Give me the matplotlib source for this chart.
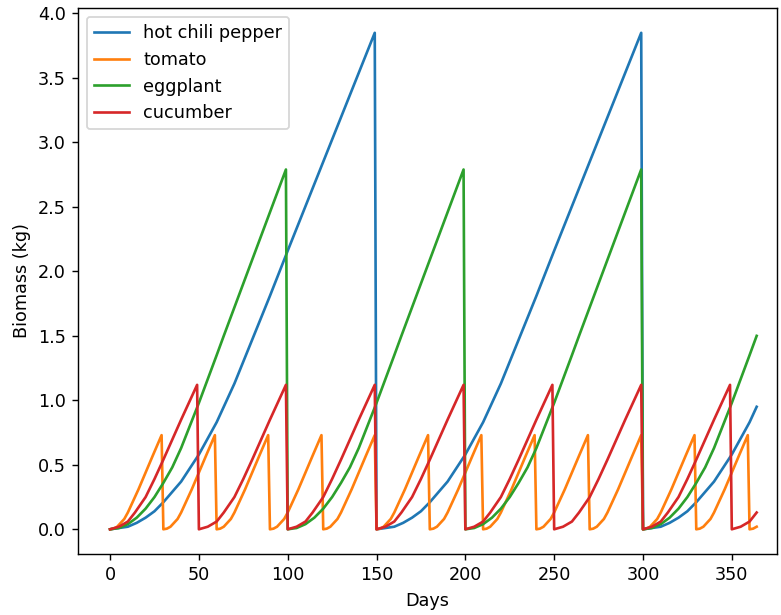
import matplotlib
matplotlib.use('Agg')
import matplotlib.pyplot as plt
import numpy as np

LAST_DAY = 364

# Each crop is harvested at the end of its cycle and restarts from zero.
crops = ['hot chili pepper', 'tomato', 'eggplant', 'cucumber']
cycle_days = [150, 30, 100, 50]

chili_age = [0, 5, 10, 15, 20, 25, 30, 40, 50, 60, 64, 70, 80, 90, 100, 120, 149]
chili_kg = [0.0, 0.01, 0.02, 0.05, 0.09, 0.14, 0.21, 0.37, 0.58, 0.83, 0.95, 1.13,
            1.47, 1.81, 2.16, 2.85, 3.85]

tomato_age = [0, 2, 4, 6, 8, 10, 12, 14, 16, 20, 24, 29]
tomato_kg = [0.0, 0.005, 0.02, 0.05, 0.08, 0.13, 0.19, 0.25, 0.31, 0.44, 0.57, 0.73]

eggplant_age = [0, 5, 10, 15, 20, 25, 30, 35, 40, 50, 60, 64, 80, 99]
eggplant_kg = [0.0, 0.01, 0.04, 0.09, 0.16, 0.25, 0.36, 0.48, 0.63, 0.98, 1.35,
               1.50, 2.09, 2.79]

cucumber_age = [0, 5, 10, 14, 20, 25, 30, 40, 49]
cucumber_kg = [0.0, 0.02, 0.06, 0.13, 0.25, 0.39, 0.54, 0.85, 1.12]

profiles = [(chili_age, chili_kg), (tomato_age, tomato_kg),
            (eggplant_age, eggplant_kg), (cucumber_age, cucumber_kg)]


def year_series(ages, vals, cycle):
    xs, ys = [], []
    for start in range(0, LAST_DAY + 1, cycle):
        for a, v in zip(ages, vals):
            if start + a <= LAST_DAY:
                xs.append(start + a)
                ys.append(v)
    return xs, ys


fig = plt.figure(figsize=(781 / 127, 615 / 127), dpi=127)
ax = fig.add_axes([0.1, 0.099, 0.895, 0.888])

for name, (ages, vals), cyc in zip(crops, profiles, cycle_days):
    x, y = year_series(ages, vals, cyc)
    ax.plot(x, y, label=name)

ax.set_xlim(-18, 375.5)
ax.set_xlabel('Days')
ax.set_ylabel('Biomass (kg)')
ax.legend(loc='upper left')
fig.savefig('out.png', dpi=127)
